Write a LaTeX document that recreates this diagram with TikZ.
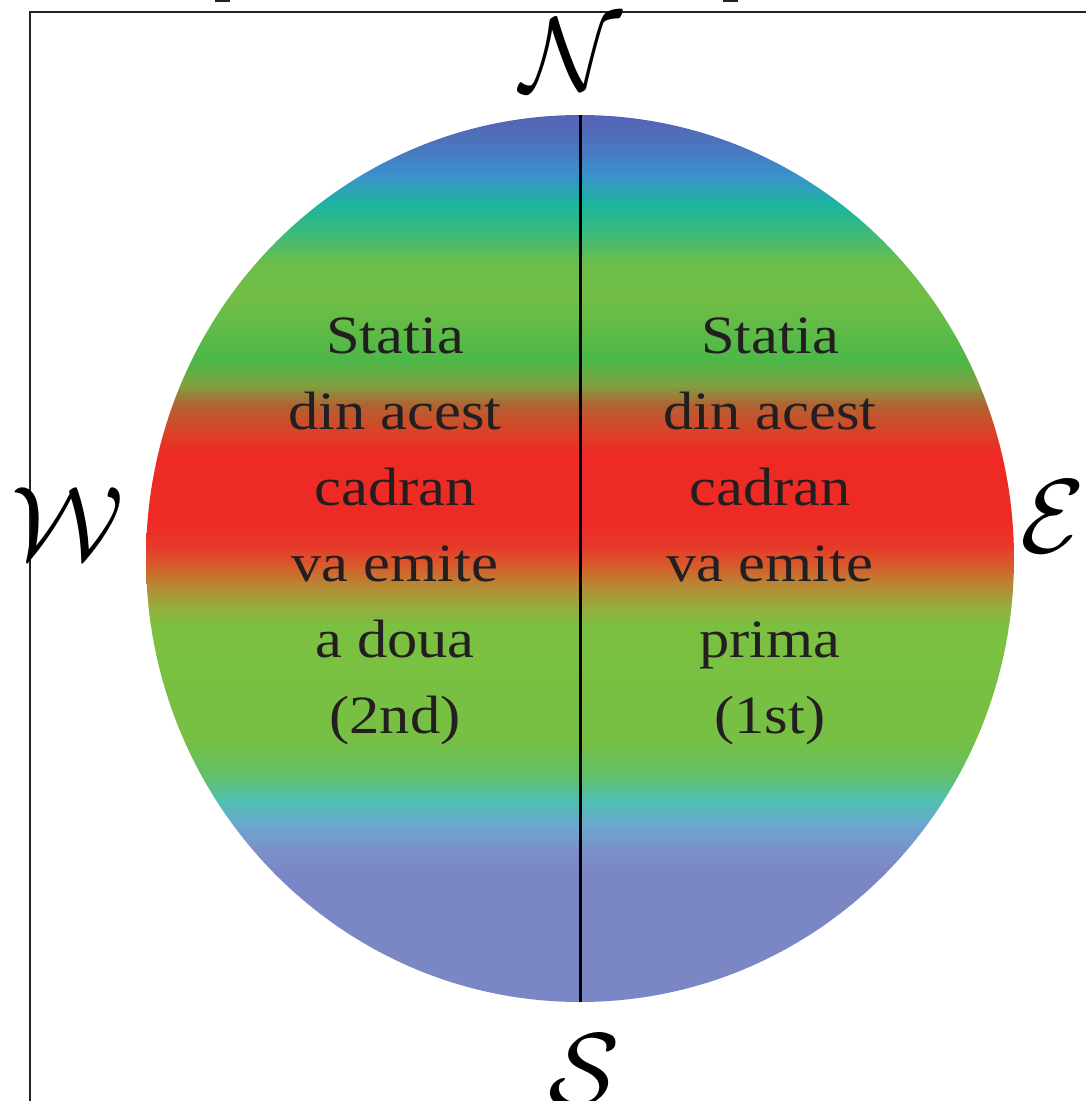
\documentclass[tikz,border=0pt]{standalone}
\usepackage{graphicx}
\usepackage{fontspec}
\setmainfont{Liberation Serif}[FakeStretch=1.12]
\definecolor{textcol}{HTML}{231F20}
\definecolor{frame}{HTML}{222222}
\definecolor{g0}{HTML}{5662B3}
\definecolor{g1}{HTML}{4A78C0}
\definecolor{g2}{HTML}{3A92CC}
\definecolor{g3}{HTML}{1CB59E}
\definecolor{g4}{HTML}{3FBA78}
\definecolor{g5}{HTML}{6CBE48}
\definecolor{g6}{HTML}{70BE46}
\definecolor{g7}{HTML}{4CB848}
\definecolor{g8}{HTML}{80A040}
\definecolor{g9}{HTML}{B26232}
\definecolor{g10}{HTML}{D84428}
\definecolor{g11}{HTML}{EE2A24}
\definecolor{g12}{HTML}{E8382A}
\definecolor{g13}{HTML}{D85A2C}
\definecolor{g14}{HTML}{B88834}
\definecolor{g15}{HTML}{98AA3C}
\definecolor{g16}{HTML}{7CC040}
\definecolor{g17}{HTML}{76C044}
\definecolor{g18}{HTML}{62C068}
\definecolor{g19}{HTML}{50C0B0}
\definecolor{g20}{HTML}{6AA8D0}
\definecolor{g21}{HTML}{7A90C8}
\definecolor{g22}{HTML}{7B86C4}
\pgfdeclareverticalshading{bands}{100bp}{%
color(0bp)=(g22); color(25bp)=(g22); color(32.16bp)=(g22);
color(33.57bp)=(g21); color(34.98bp)=(g20); color(36.39bp)=(g19);
color(37.8bp)=(g18); color(39.77bp)=(g17); color(46.25bp)=(g16);
color(47.38bp)=(g15); color(48.5bp)=(g14); color(49.63bp)=(g13);
color(50.76bp)=(g12); color(52.17bp)=(g11); color(55.83bp)=(g11);
color(57.24bp)=(g10); color(58.65bp)=(g9); color(59.78bp)=(g8);
color(61.19bp)=(g7); color(64.57bp)=(g6); color(66.55bp)=(g5);
color(68.24bp)=(g4); color(69.93bp)=(g3); color(71.62bp)=(g2);
color(73.03bp)=(g1); color(75bp)=(g0); color(100bp)=(g0)}
\newcommand{\bigcal}[1]{\scalebox{10.5}{$\mathcal{#1}$}}
\tikzset{
  quadtext/.style={align=center, inner sep=0pt, text=textcol,
    font=\fontsize{54}{76}\selectfont},
  compass/.style={inner sep=0pt, text=black},
  framepen/.style={draw=frame, line width=2.5pt}
}
\begin{document}
\begin{tikzpicture}[x=1pt,y=-1pt]
\useasboundingbox (0,0) rectangle (1086,1101);
% frame
\draw[framepen] (30,1101) -- (30,12) -- (1086,12);
\fill[frame] (215,0) rectangle (230,2);
\fill[frame] (723,0) rectangle (738,2);
% disc
\shade[shading=bands] (580,558.5) ellipse [x radius=434pt, y radius=443.5pt];
\coordinate (top) at (580,115);
\coordinate (bot) at (580,1002);
\draw[line width=3pt, black] (top) -- (bot);
% texts
\node[quadtext] (left) at (395,531) {Statia\\din acest\\cadran\\va emite\\a doua\\(2nd)};
\node[quadtext] (right) at (770,531) {Statia\\din acest\\cadran\\va emite\\prima\\(1st)};
% compass
\node[compass, anchor=north] (N) at (571,19) {\bigcal{N}};
\node[compass] (W) at (68,524) {\bigcal{W}};
\node[compass, anchor=west] (E) at (1020,517) {\bigcal{E}};
\node[compass, anchor=north west] (S) at (548,1035) {\bigcal{S}};
\end{tikzpicture}
\end{document}
